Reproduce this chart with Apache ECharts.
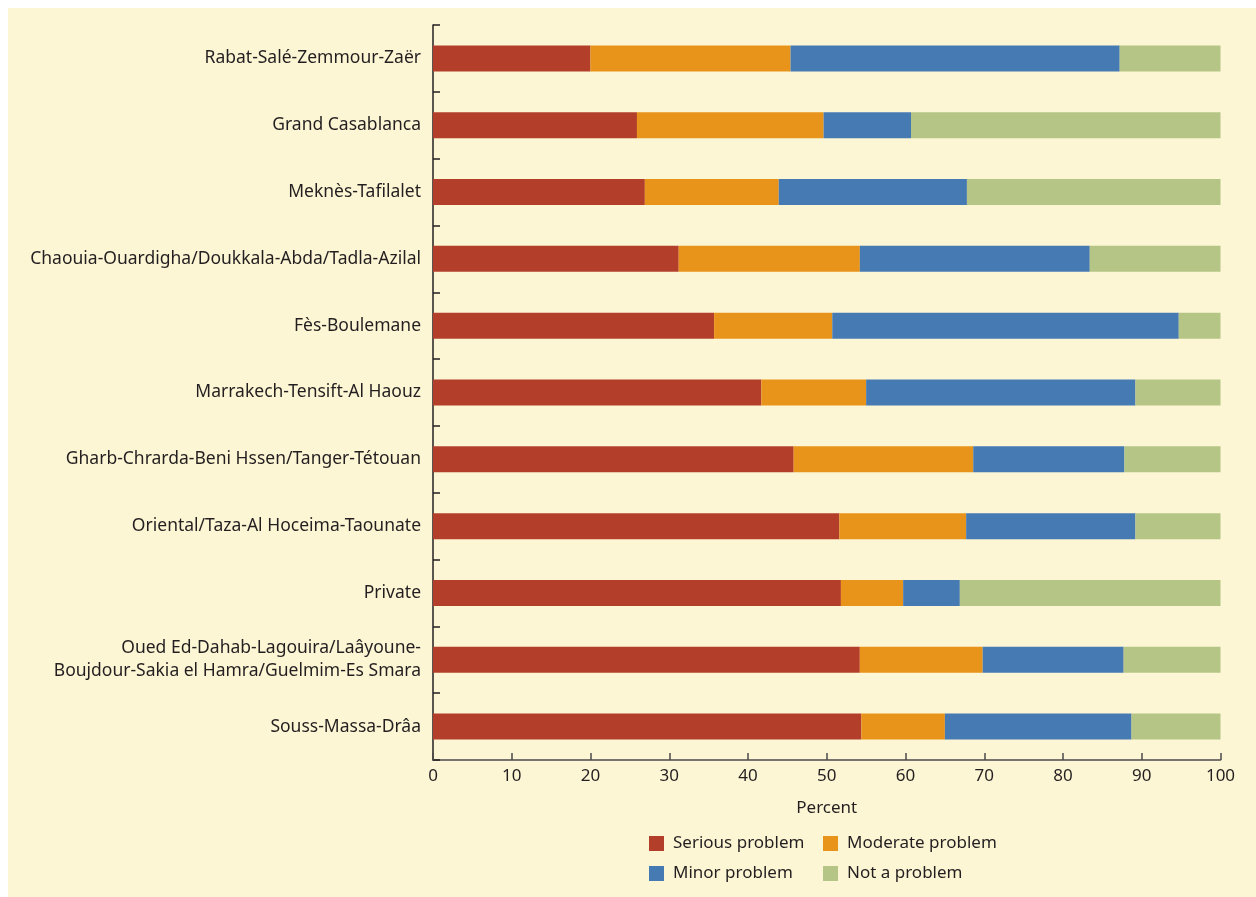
<!DOCTYPE html>
<html>
<head>
<meta charset="utf-8">
<script src="https://cdn.jsdelivr.net/npm/echarts@6/dist/echarts.min.js"></script>
<style>
html,body{margin:0;padding:0;background:#ffffff;}
#chart{width:1256px;height:897px;}
</style>
</head>
<body>
<div id="chart"></div>
<script>
const categories = [
  'Rabat-Salé-Zemmour-Zaër',
  'Grand Casablanca',
  'Meknès-Tafilalet',
  'Chaouia-Ouardigha/Doukkala-Abda/Tadla-Azilal',
  'Fès-Boulemane',
  'Marrakech-Tensift-Al Haouz',
  'Gharb-Chrarda-Beni Hssen/Tanger-Tétouan',
  'Oriental/Taza-Al Hoceima-Taounate',
  'Private',
  'Oued Ed-Dahab-Lagouira/Laâyoune-\nBoujdour-Sakia el Hamra/Guelmim-Es Smara',
  'Souss-Massa-Drâa'
];
const seriousProblem  = [20.0, 25.9, 26.9, 31.2, 35.7, 41.7, 45.8, 51.6, 51.8, 54.2, 54.4];
const moderateProblem = [25.4, 23.7, 17.0, 23.0, 15.0, 13.3, 22.8, 16.1, 7.9, 15.6, 10.6];
const minorProblem    = [41.8, 11.1, 23.9, 29.2, 44.0, 34.2, 19.2, 21.5, 7.2, 17.9, 23.7];
const notAProblem     = [12.8, 39.3, 32.2, 16.6, 5.3, 10.8, 12.2, 10.8, 33.1, 12.3, 11.3];
const xTicks = [0,10,20,30,40,50,60,70,80,90,100];

const seriesNames = ['Serious problem','Moderate problem','Minor problem','Not a problem'];
const seriesColors = ['#B33F2B','#E8931A','#467AB3','#B5C586'];
const seriesData = [seriousProblem, moderateProblem, minorProblem, notAProblem];

const FONT = '"Noto Sans", sans-serif';
const TXT = '#231F20';

const chart = echarts.init(document.getElementById('chart'), null, {renderer:'canvas'});

const legendPos = [[649,835],[823,835],[649,865],[823,865]];

chart.setOption({
  backgroundColor: '#ffffff',
  animation: false,
  graphic: [{
    type: 'rect', z: -10, silent: true,
    shape: {x: 8, y: 8, width: 1248, height: 889},
    style: {fill: '#FDF6D5'}
  }],
  grid: {left: 433, right: 35.5, top: 25, bottom: 137, containLabel: false},
  legend: seriesNames.map((n, i) => ({
    data: [n],
    left: legendPos[i][0], top: legendPos[i][1],
    itemWidth: 15, itemHeight: 15, itemGap: 8,
    icon: 'rect',
    textStyle: {fontFamily: FONT, fontSize: 17, color: TXT, padding: [0,0,0,4]},
    padding: 0
  })),
  xAxis: {
    type: 'value', min: 0, max: 100, interval: 10,
    name: 'Percent', nameLocation: 'middle', nameGap: 40,
    nameTextStyle: {fontFamily: FONT, fontSize: 17, color: TXT},
    axisLine: {show: true, lineStyle: {color: '#4a4a4a', width: 1.5}},
    axisTick: {show: true, inside: true, length: 7, lineStyle: {color: '#4a4a4a', width: 1.5}},
    splitLine: {show: false},
    axisLabel: {fontFamily: FONT, fontSize: 17, color: TXT, margin: 8,
      formatter: v => xTicks.indexOf(v) >= 0 ? String(v) : ''}
  },
  yAxis: {
    type: 'category', data: categories, inverse: true,
    axisLine: {show: true, lineStyle: {color: '#231F20', width: 1.5}},
    axisTick: {show: true, inside: true, length: 7, alignWithLabel: false, lineStyle: {color: '#231F20', width: 1.5}},
    axisLabel: {fontFamily: FONT, fontSize: 17.5, color: TXT, margin: 12, lineHeight: 23, align: 'right'},
    splitLine: {show: false}
  },
  series: seriesNames.map((n, i) => ({
    name: n, type: 'bar', stack: 'total',
    data: seriesData[i], barWidth: 26,
    itemStyle: {color: seriesColors[i]},
    emphasis: {disabled: true}
  }))
});
</script>
</body>
</html>
